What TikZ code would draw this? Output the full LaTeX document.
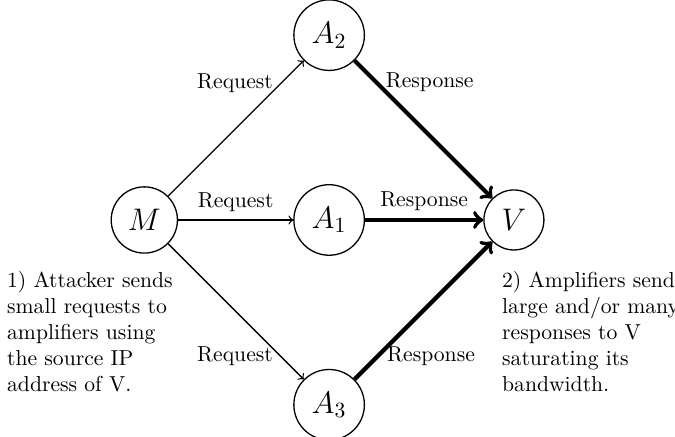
\documentclass[tikz,border=0pt]{standalone}
\begin{document}
\begin{tikzpicture}[
  agent/.style={circle, draw, semithick, font=\Large, inner sep=4.5pt},
  req/.style={->, semithick},
  resp/.style={->, line width=1.9pt},
  note/.style={anchor=north west, inner sep=0pt, align=left}
]
\useasboundingbox (-2.343,-3.523) rectangle (8.615,3.571);
\node[agent] (M) at (0,0) {$M$};
\node[agent] (A1) at (3,0) {$A_1$};
\node[agent] (A2) at (3,3) {$A_2$};
\node[agent] (A3) at (3,-3) {$A_3$};
\node[agent] (V) at (6,0) {$V$};

\draw[req] (M) -- node[above] {Request} (A1);
\draw[req] (M) -- node[left, pos=0.83] {Request} (A2);
\draw[req] (M) -- node[left, pos=0.83] {Request} (A3);

\draw[resp] (A1) -- node[above] {Response} (V);
\draw[resp] (A2) -- node[right, pos=0.16] {Response} (V);
\draw[resp] (A3) -- node[right, pos=0.17] {Response} (V);

\node[note] (t1) at (-2.234,-0.82) {1) Attacker sends\\small requests to\\amplifiers using\\the source IP\\address of V.};
\node[note] (t2) at (5.802,-0.82) {2) Amplifiers send\\large and/or many\\responses to V\\saturating its\\bandwidth.};
\end{tikzpicture}
\end{document}
